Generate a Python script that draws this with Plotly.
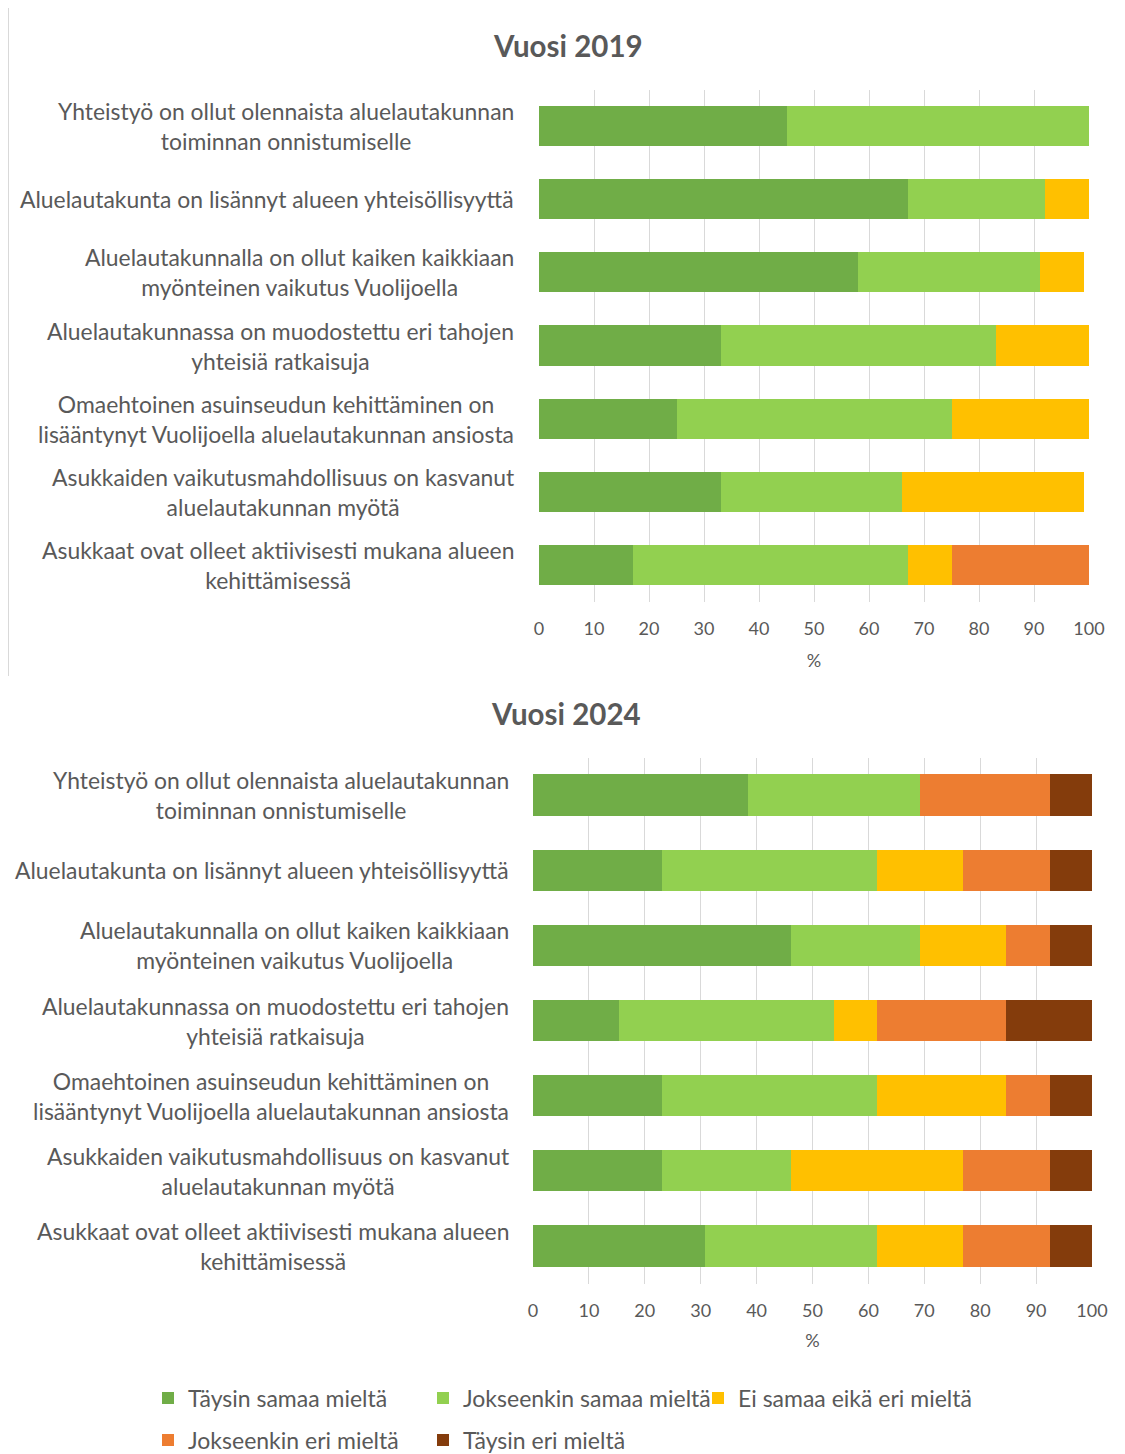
import plotly.graph_objects as go

categories = [
    "Yhteistyö on ollut olennaista aluelautakunnan<br>toiminnan onnistumiselle",
    "Aluelautakunta on lisännyt alueen yhteisöllisyyttä",
    "Aluelautakunnalla on ollut kaiken kaikkiaan<br>myönteinen vaikutus Vuolijoella",
    "Aluelautakunnassa on muodostettu eri tahojen<br>yhteisiä ratkaisuja",
    "Omaehtoinen asuinseudun kehittäminen on<br>lisääntynyt Vuolijoella aluelautakunnan ansiosta",
    "Asukkaiden vaikutusmahdollisuus on kasvanut<br>aluelautakunnan myötä",
    "Asukkaat ovat olleet aktiivisesti mukana alueen<br>kehittämisessä",
]

series_names = [
    "Täysin samaa mieltä",
    "Jokseenkin samaa mieltä",
    "Ei samaa eikä eri mieltä",
    "Jokseenkin eri mieltä",
    "Täysin eri mieltä",
]
series_colors = ["#70AD47", "#92D050", "#FFC000", "#ED7D31", "#843C0C"]

# Vuosi 2019 (%)
taysin_samaa_2019 = [45, 67, 58, 33, 25, 33, 17]
jokseenkin_samaa_2019 = [55, 25, 33, 50, 50, 33, 50]
ei_samaa_eika_eri_2019 = [0, 8, 8, 17, 25, 33, 8]
jokseenkin_eri_2019 = [0, 0, 0, 0, 0, 0, 25]
taysin_eri_2019 = [0, 0, 0, 0, 0, 0, 0]

# Vuosi 2024 (%)
taysin_samaa_2024 = [38.5, 23.1, 46.2, 15.4, 23.1, 23.1, 30.8]
jokseenkin_samaa_2024 = [30.8, 38.5, 23.1, 38.5, 38.5, 23.1, 30.8]
ei_samaa_eika_eri_2024 = [0, 15.4, 15.4, 7.7, 23.1, 30.8, 15.4]
jokseenkin_eri_2024 = [23.1, 15.4, 7.7, 23.1, 7.7, 15.4, 15.4]
taysin_eri_2024 = [7.7, 7.7, 7.7, 15.4, 7.7, 7.7, 7.7]

titles = ["Vuosi 2019", "Vuosi 2024"]
x_ticks = [0, 10, 20, 30, 40, 50, 60, 70, 80, 90, 100]

data_2019 = [taysin_samaa_2019, jokseenkin_samaa_2019, ei_samaa_eika_eri_2019,
             jokseenkin_eri_2019, taysin_eri_2019]
data_2024 = [taysin_samaa_2024, jokseenkin_samaa_2024, ei_samaa_eika_eri_2024,
             jokseenkin_eri_2024, taysin_eri_2024]

OFF = 8  # default page body margin
W, H = 1125 - OFF, 1454 - OFF
FONT = "Lato"
GRAY = "#595959"

def px_x(p):
    return (p - OFF) / W

def px_y(p):
    return 1 - (p - OFF) / H

fig = go.Figure()

for i, name in enumerate(series_names):
    leg = "legend" if i < 3 else "legend2"
    fig.add_trace(go.Bar(
        x=data_2019[i], y=categories, orientation="h", name=name,
        marker=dict(color=series_colors[i], line=dict(width=0)),
        xaxis="x", yaxis="y", width=0.55, legendgroup=name,
        showlegend=False, hoverinfo="x+name",
    ))
    fig.add_trace(go.Bar(
        x=data_2024[i], y=categories, orientation="h", name=name,
        marker=dict(color=series_colors[i], line=dict(width=0)),
        xaxis="x2", yaxis="y2", width=0.55, legendgroup=name,
        showlegend=True, legend=leg, hoverinfo="x+name",
    ))

xcommon = dict(
    range=[0, 100], tickvals=x_ticks, showgrid=True, gridcolor="#D9D9D9",
    gridwidth=1, zeroline=False, showline=False, ticks="",
    ticklabelstandoff=14,
    tickfont=dict(family=FONT, size=18, color=GRAY),
    fixedrange=True, automargin=False,
)
ycommon = dict(
    autorange="reversed", showticklabels=False, showgrid=False, zeroline=False,
    showline=False, ticks="", automargin=False, fixedrange=True,
)

fig.update_layout(
    width=W, height=H,
    margin=dict(l=0, r=0, t=0, b=0, autoexpand=False),
    paper_bgcolor="white", plot_bgcolor="white",
    barmode="stack",
    font=dict(family=FONT, color=GRAY),
    xaxis=dict(domain=[px_x(539), px_x(1089)], anchor="y",
               title=dict(text="%", font=dict(family=FONT, size=18, color=GRAY), standoff=16),
               **xcommon),
    yaxis=dict(domain=[px_y(601.5), px_y(89.5)], anchor="x", **ycommon),
    xaxis2=dict(domain=[px_x(533), px_x(1092)], anchor="y2",
                title=dict(text="%", font=dict(family=FONT, size=18, color=GRAY), standoff=14),
                **xcommon),
    yaxis2=dict(domain=[px_y(1283.5), px_y(757.5)], anchor="x2", **ycommon),
    legend=dict(orientation="h", x=px_x(148), y=px_y(1398), xanchor="left",
                yanchor="middle", entrywidth=230, entrywidthmode="pixels",
                font=dict(family=FONT, size=23, color=GRAY), bgcolor="rgba(0,0,0,0)"),
    legend2=dict(orientation="h", x=px_x(148), y=px_y(1440), xanchor="left",
                 yanchor="middle", entrywidth=230, entrywidthmode="pixels",
                 font=dict(family=FONT, size=23, color=GRAY), bgcolor="rgba(0,0,0,0)"),
    showlegend=True,
)

annotations = []
annotations.append(dict(text="<b>" + titles[0] + "</b>", x=px_x(568), y=px_y(45),
                        xref="paper", yref="paper", showarrow=False,
                        xanchor="center", yanchor="middle",
                        font=dict(family=FONT, size=29.5, color=GRAY)))
annotations.append(dict(text="<b>" + titles[1] + "</b>", x=px_x(566), y=px_y(713),
                        xref="paper", yref="paper", showarrow=False,
                        xanchor="center", yanchor="middle",
                        font=dict(family=FONT, size=29.5, color=GRAY)))
for c in categories:
    annotations.append(dict(text=c, x=px_x(516), y=c, xref="paper", yref="y",
                            showarrow=False, xanchor="right", yanchor="middle",
                            align="center",
                            font=dict(family=FONT, size=22.9, color=GRAY)))
    annotations.append(dict(text=c, x=px_x(511), y=c, xref="paper", yref="y2",
                            showarrow=False, xanchor="right", yanchor="middle",
                            align="center",
                            font=dict(family=FONT, size=22.9, color=GRAY)))
fig.update_layout(annotations=annotations)

fig.add_shape(type="line", xref="paper", yref="paper",
              x0=px_x(8.5), x1=px_x(8.5), y0=1, y1=px_y(676),
              line=dict(color="#D9D9D9", width=1))

fig.write_html("out.html")
